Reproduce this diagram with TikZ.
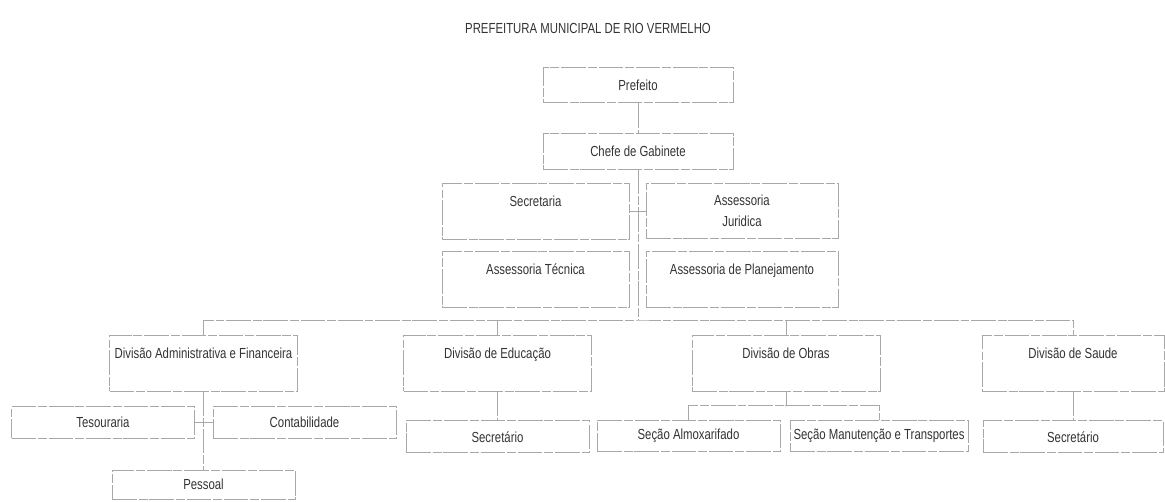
\documentclass[tikz,border=0pt]{standalone}
\usepackage{fontspec}
\newfontfamily\orgfont{Liberation Sans}[FakeStretch=0.78]
\usetikzlibrary{positioning}
\definecolor{scanline}{gray}{0.66}
\definecolor{scantext}{gray}{0.2}

\tikzset{
  unit/.style={rectangle,draw=scanline,line width=.55pt,dash pattern=on 14pt off 1.2pt on 5pt off 1pt,inner sep=0pt,text=scantext,font=\orgfont\fontsize{8.3}{12}\selectfont},
  headbox/.style={unit,minimum width=3.8cm,minimum height=.71cm},
  tallbox/.style={unit,minimum width=3.76cm,text height=.46cm,text depth=.66cm},
  smallbox/.style={unit,minimum width=3.66cm,minimum height=.63cm},
  link/.style={draw=scanline,line width=.55pt,dash pattern=on 14pt off 1.2pt on 5pt off 1pt}
}

\begin{document}
\begin{tikzpicture}[x=0.02cm,y=-0.02cm]
\useasboundingbox (0,0) rectangle (1165,501);
\node[unit,draw=none](title) at (588,28) {PREFEITURA MUNICIPAL DE RIO VERMELHO};
\node[headbox](prefeito) at (638,85) {Prefeito};
\node[headbox,below=.6cm of prefeito](chefe) {Chefe de Gabinete};
\node[tallbox,minimum width=3.74cm](secretaria) at (535.5,211) {Secretaria};
\node[unit,align=center,minimum width=3.84cm,minimum height=1.1cm](juridica) at (742,211) {Assessoria\\Juridica};
\node[tallbox,minimum width=3.74cm,below=.24cm of secretaria](tecnica) {Assessoria Técnica};
\node[tallbox,minimum width=3.84cm,below=.24cm of juridica](planejamento) {Assessoria de Planejamento};
\node[tallbox](divadm) at (203.5,363) {Divisão Administrativa e Financeira};
\node[tallbox](diveduc) at (497.5,363) {Divisão de Educação};
\node[tallbox](divobras) at (786,363) {Divisão de Obras};
\node[tallbox,minimum width=3.64cm](divsaude) at (1073,363) {Divisão de Saude};
\node[smallbox](tesouraria) at (103,422.5) {Tesouraria};
\node[smallbox](contabilidade) at (304.5,422.5) {Contabilidade};
\node[smallbox,minimum height=.58cm](pessoal) at (203.5,484.5) {Pessoal};
\node[smallbox,below=.58cm of diveduc](secedu) {Secretário};
\node[smallbox](almox) at (688.5,436) {Seção Almoxarifado};
\node[smallbox,minimum width=3.56cm](manut) at (879,436) {Seção Manutenção e Transportes};
\node[smallbox,minimum width=3.6cm,below=.58cm of divsaude](secsaude) {Secretário};
\coordinate (bus) at (638,320);
\coordinate (obrasbus) at (786,405);
\draw[link] (prefeito) -- (chefe);
\draw[link] (chefe) -- (bus);
\draw[link] (secretaria) -- (juridica);
\draw[link] (divadm.north) |- (bus) -| (divsaude.north);
\draw[link] (diveduc.north) -- (diveduc.north |- bus);
\draw[link] (divobras.north) -- (divobras.north |- bus);
\draw[link] (divadm) -- (pessoal);
\draw[link] (tesouraria) -- (tesouraria -| divadm);
\draw[link] (contabilidade) -- (contabilidade -| divadm);
\draw[link] (diveduc) -- (secedu);
\draw[link] (divobras) -- (obrasbus);
\draw[link] (almox.north) |- (obrasbus) -| (manut.north);
\draw[link] (divsaude) -- (secsaude);
\end{tikzpicture}
\end{document}
